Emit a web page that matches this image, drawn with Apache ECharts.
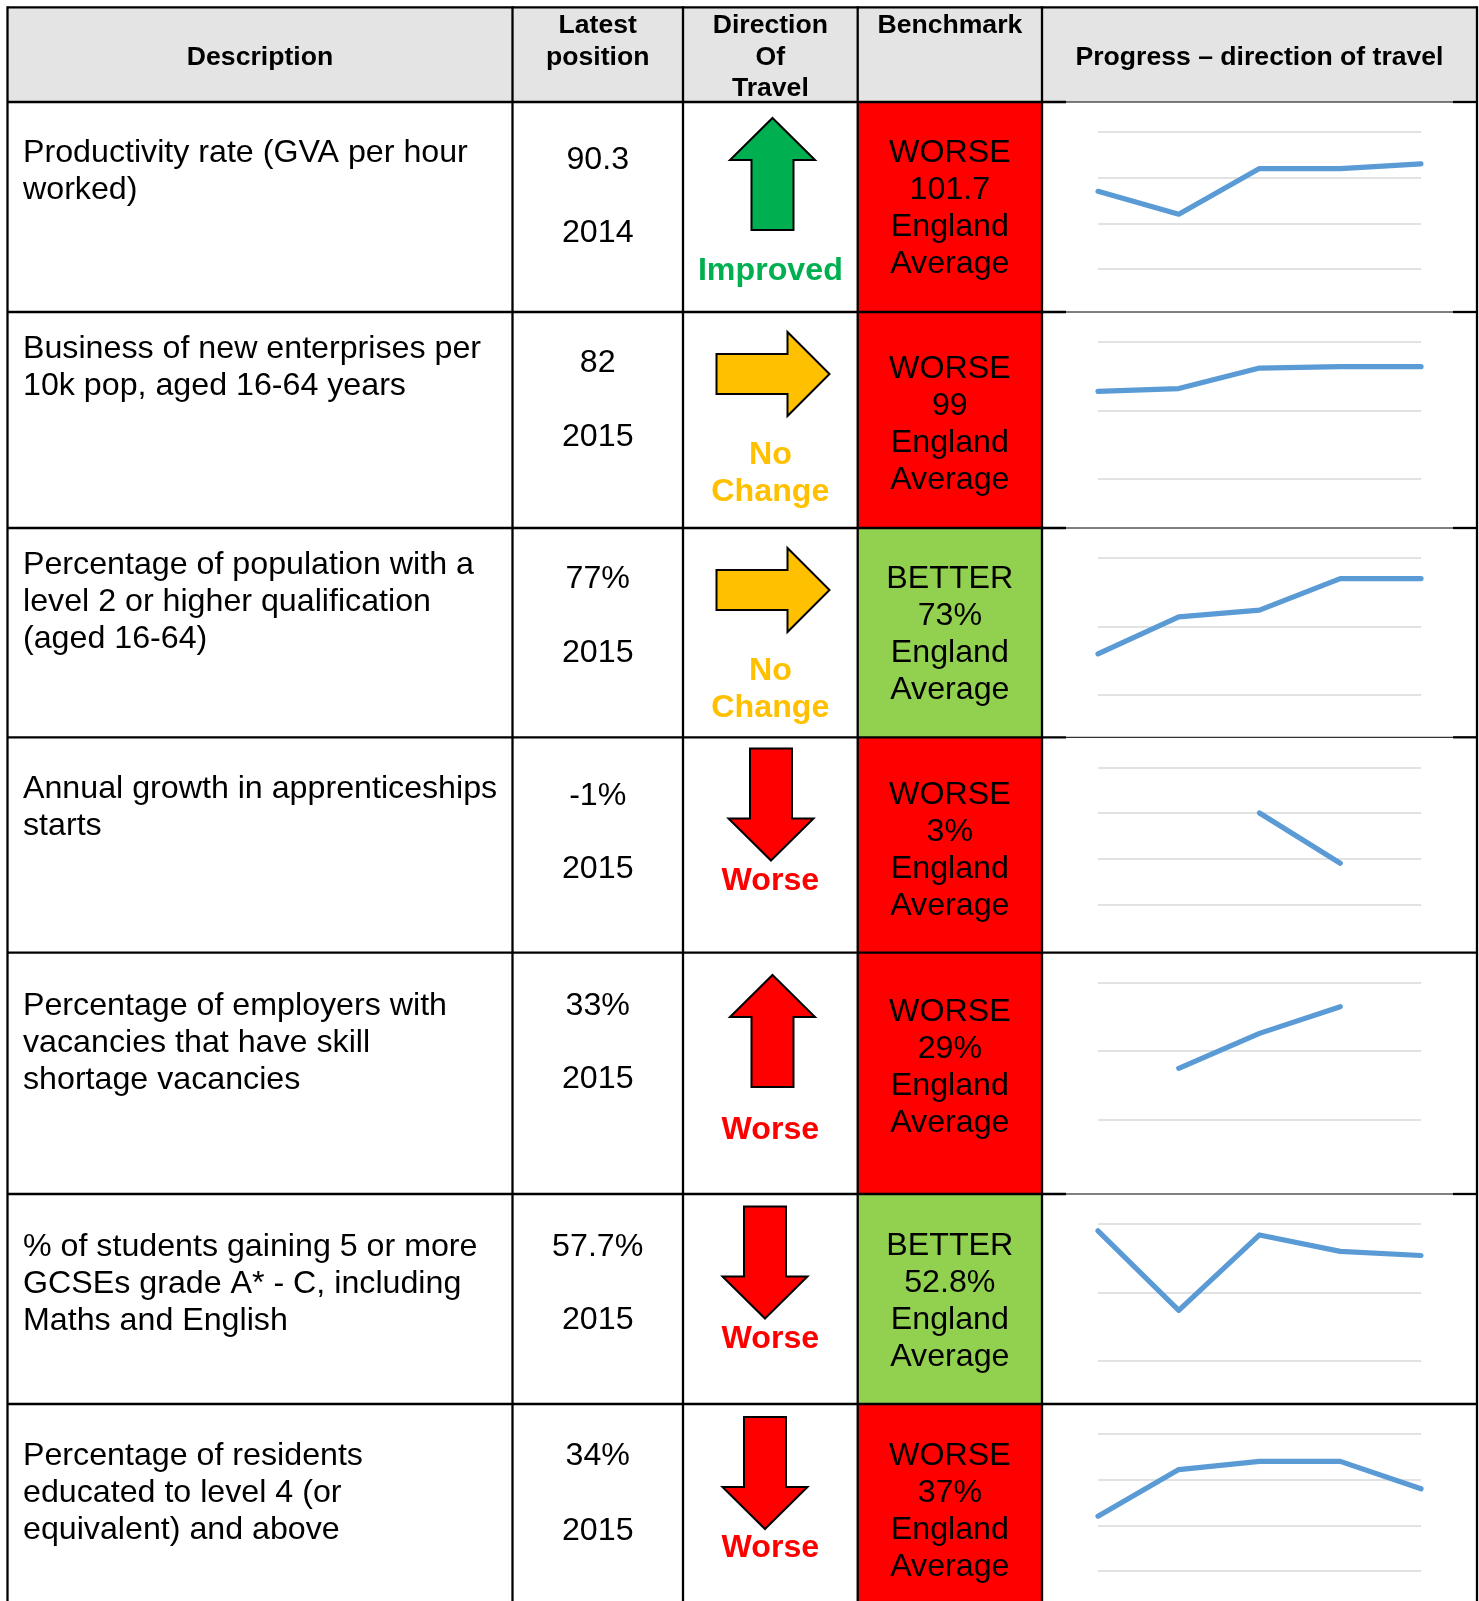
<!DOCTYPE html>
<html>
<head>
<meta charset="utf-8">
<script src="https://cdn.jsdelivr.net/npm/echarts@6/dist/echarts.min.js"></script>
<style>
html,body{margin:0;padding:0;background:#fff;}
#chart{width:1479px;height:1601px;}
</style>
</head>
<body>
<div id="chart"></div>
<script>
// ---------------- DATA ----------------
const headers = [
  ['Description'],
  ['Latest', 'position'],
  ['Direction', 'Of', 'Travel'],
  ['Benchmark'],
  ['Progress \u2013 direction of travel']
];
const descriptions = [
  ['Productivity rate (GVA per hour', 'worked)'],
  ['Business of new enterprises per', '10k pop, aged 16-64 years'],
  ['Percentage of population with a', 'level 2 or higher qualification', '(aged 16-64)'],
  ['Annual growth in apprenticeships', 'starts'],
  ['Percentage of employers with', 'vacancies that have skill', 'shortage vacancies'],
  ['% of students gaining 5 or more', 'GCSEs grade A* - C, including', 'Maths and English'],
  ['Percentage of residents', 'educated to level 4 (or', 'equivalent) and above']
];
const latestValues = ['90.3', '82', '77%', '-1%', '33%', '57.7%', '34%'];
const latestYears = ['2014', '2015', '2015', '2015', '2015', '2015', '2015'];
const arrowDirections = ['up', 'right', 'right', 'down', 'up', 'down', 'down'];
const travelStatus = ['improved', 'nochange', 'nochange', 'worse', 'worse', 'worse', 'worse'];
const travelLabels = { improved: ['Improved'], nochange: ['No', 'Change'], worse: ['Worse'] };
const benchmarkStatus = ['WORSE', 'WORSE', 'BETTER', 'WORSE', 'WORSE', 'BETTER', 'WORSE'];
const benchmarkValues = ['101.7', '99', '73%', '3%', '29%', '52.8%', '37%'];
const benchmarkArea = ['England', 'Average'];

const sparkYears = ['2011', '2012', '2013', '2014', '2015'];
const sparkProductivity = [89.4, 88.4, 90.4, 90.4, 90.6];
const sparkEnterprises = [64, 66, 81, 82, 82];
const sparkLevel2 = [66, 71.4, 72.4, 77, 77];
const sparkApprentices = [null, null, 0, -1.1, null];
const sparkSkillShortage = [null, 15, 25.2, 33, null];
const sparkGCSE = [59.5, 53.7, 59.2, 58.0, 57.7];
const sparkLevel4 = [31, 36.1, 37, 37, 34];
const sparkSeries = [sparkProductivity, sparkEnterprises, sparkLevel2, sparkApprentices, sparkSkillShortage, sparkGCSE, sparkLevel4];
const sparkMin = [86, 0, 60, -2, 0, 50, 25];
const sparkMax = [92, 100, 80, 1, 40, 60, 40];
const sparkInterval = [2, 50, 10, 1, 20, 5, 5];

// ---------------- LAYOUT / STYLE ----------------
const FONT = '"Liberation Sans", Arial, Helvetica, sans-serif';
const TY = 2.5; // text baseline nudge
const colX = [7.5, 512.5, 683, 857.7, 1042, 1477];
const rowY = [7.3, 102, 312, 528, 737.3, 952.7, 1194, 1404, 1601];
const headerLineY = [[55], [23.5, 55], [23.5, 55, 86], [23.5], [55]];
const descFirstY = [151, 347, 562.6, 787, 1003.6, 1244.6, 1454];
const latestY = [[158, 231], [360.4, 435], [577, 650.4], [794, 867], [1003.6, 1077], [1244.6, 1318], [1454, 1528.4]];
const benchFirstY = [151, 366.5, 577, 793, 1009.8, 1243.6, 1454];
const arrowCenter = [[772.5, 174], [773, 374], [773, 590], [771, 804.5], [772.5, 1031], [765, 1262.5], [765, 1473]];
const travelLabelY = [[268.5], [452.3, 490], [668.8, 705.5], [879], [1128], [1336.7], [1546]];
const thinTopRows = [0, 1, 2, 3, 5];
const travelColor = { improved: '#00b050', nochange: '#ffc000', worse: '#ff0000' };
const benchColor = { WORSE: '#ff0000', BETTER: '#92d050' };
const LINE_H = 36.8;
const BORDER_W = 2.3;

function arrowPoints(dir, cx, cy) {
  if (dir === 'right') {
    const L = 113, hl = 42, hw = 84, sw = 40;
    const x0 = cx - L / 2, x1 = cx + L / 2 - hl, x2 = cx + L / 2;
    return [[x0, cy - sw / 2], [x1, cy - sw / 2], [x1, cy - hw / 2], [x2, cy], [x1, cy + hw / 2], [x1, cy + sw / 2], [x0, cy + sw / 2]];
  }
  const H = 112, hh = 42, hw = 85, sw = 42;
  const s = dir === 'up' ? -1 : 1;
  const tipY = cy + s * H / 2, baseY = cy + s * (H / 2 - hh), tailY = cy - s * H / 2;
  return [[cx, tipY], [cx + hw / 2, baseY], [cx + sw / 2, baseY], [cx + sw / 2, tailY], [cx - sw / 2, tailY], [cx - sw / 2, baseY], [cx - hw / 2, baseY]];
}

function txt(text, x, y, opts) {
  opts = opts || {};
  return {
    type: 'text', x: x, y: y + TY, z: 10,
    style: {
      text: text,
      font: (opts.bold ? 'bold ' : '') + (opts.size || 32.2) + 'px ' + FONT,
      fill: opts.color || '#000',
      align: opts.align || 'center',
      verticalAlign: 'middle'
    }
  };
}
function line(x1, y1, x2, y2, w) {
  return { type: 'line', z: 20, shape: { x1: x1, y1: y1, x2: x2, y2: y2 }, style: { stroke: '#000', lineWidth: w || BORDER_W } };
}

const graphics = [];
// header background
graphics.push({ type: 'rect', z: 1, shape: { x: colX[0], y: rowY[0], width: colX[5] - colX[0], height: rowY[1] - rowY[0] }, style: { fill: '#e4e4e4' } });
// benchmark cells
benchmarkStatus.forEach(function (st, i) {
  graphics.push({ type: 'rect', z: 1, shape: { x: colX[3], y: rowY[i + 1], width: colX[4] - colX[3], height: rowY[i + 2] - rowY[i + 1] }, style: { fill: benchColor[st] } });
});
// header text
headers.forEach(function (lines, c) {
  const cx = (colX[c] + colX[c + 1]) / 2;
  lines.forEach(function (t, k) { graphics.push(txt(t, cx, headerLineY[c][k], { bold: true, size: 26.6 })); });
});
// rows
for (let i = 0; i < descriptions.length; i++) {
  descriptions[i].forEach(function (t, k) { graphics.push(txt(t, 23, descFirstY[i] + k * LINE_H, { align: 'left' })); });
  const lx = (colX[1] + colX[2]) / 2;
  graphics.push(txt(latestValues[i], lx, latestY[i][0]));
  graphics.push(txt(latestYears[i], lx, latestY[i][1]));
  const st = travelStatus[i];
  graphics.push({ type: 'polygon', z: 5, shape: { points: arrowPoints(arrowDirections[i], arrowCenter[i][0], arrowCenter[i][1]) }, style: { fill: travelColor[st], stroke: '#000', lineWidth: 2, lineJoin: 'miter' } });
  const dx = (colX[2] + colX[3]) / 2;
  travelLabels[st].forEach(function (t, k) { graphics.push(txt(t, dx, travelLabelY[i][k], { bold: true, color: travelColor[st] })); });
  const bx = (colX[3] + colX[4]) / 2;
  [benchmarkStatus[i], benchmarkValues[i]].concat(benchmarkArea).forEach(function (t, k) {
    graphics.push(txt(t, bx, benchFirstY[i] + k * 36.9));
  });
}
// borders: verticals
colX.forEach(function (x) {
  graphics.push(line(x, rowY[0] - BORDER_W / 2, x, rowY[8]));
});
// top border
graphics.push(line(colX[0], rowY[0], colX[5], rowY[0]));
// row top borders
for (let i = 0; i < 7; i++) {
  const y = rowY[i + 1];
  if (thinTopRows.indexOf(i) >= 0) {
    graphics.push(line(colX[0], y, 1066, y));
    graphics.push(line(1066, y, 1453, y, 1));
    graphics.push(line(1453, y, colX[5], y));
  } else {
    graphics.push(line(colX[0], y, colX[5], y));
  }
}

// sparkline grids
const grids = [], xAxes = [], yAxes = [], series = [];
sparkSeries.forEach(function (data, i) {
  grids.push({ left: 1098, width: 323, top: rowY[i + 1] + 30, height: 137, containLabel: false });
  xAxes.push({ type: 'category', gridIndex: i, data: sparkYears, boundaryGap: false, show: false });
  yAxes.push({
    type: 'value', gridIndex: i, min: sparkMin[i], max: sparkMax[i], interval: sparkInterval[i],
    axisLine: { show: false }, axisTick: { show: false }, axisLabel: { show: false },
    splitLine: { show: true, lineStyle: { color: '#d9d9d9', width: 1.6 } }
  });
  series.push({
    type: 'line', xAxisIndex: i, yAxisIndex: i, data: data, symbol: 'none', connectNulls: false,
    lineStyle: { color: '#5b9bd5', width: 5.2, cap: 'round', join: 'round' }, animation: false, silent: true
  });
});

const chart = echarts.init(document.getElementById('chart'), null, { renderer: 'canvas' });
chart.setOption({
  animation: false,
  backgroundColor: '#ffffff',
  grid: grids,
  xAxis: xAxes,
  yAxis: yAxes,
  series: series,
  graphic: { elements: graphics }
});
</script>
</body>
</html>
